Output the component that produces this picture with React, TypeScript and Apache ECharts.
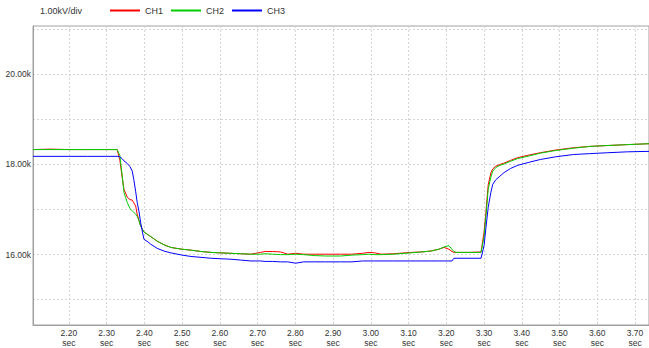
import React, { useEffect, useRef } from "react";
import * as echarts from "echarts";

const times = [
  2.105, 2.15, 2.2, 2.25, 2.3, 2.328, 2.335, 2.342, 2.346, 2.355, 2.362, 2.368, 2.372, 2.377, 2.381, 2.386,
  2.39, 2.395, 2.399, 2.41, 2.417, 2.434, 2.452, 2.47, 2.5, 2.523, 2.55, 2.576, 2.6, 2.627, 2.655, 2.682,
  2.708, 2.72, 2.74, 2.761, 2.78, 2.801, 2.822, 2.85, 2.88, 2.92, 2.95, 2.978, 2.995, 3.01, 3.027, 3.06,
  3.106, 3.135, 3.159, 3.18, 3.194, 3.207, 3.215, 3.22, 3.226, 3.26, 3.292, 3.3, 3.305, 3.311, 3.318, 3.323,
  3.331, 3.342, 3.353, 3.37, 3.389, 3.42, 3.449, 3.49, 3.537, 3.58, 3.628, 3.68, 3.737,
];

const ch1 = [
  18.33, 18.34, 18.33, 18.33, 18.33, 18.33, 18.1, 17.67, 17.45, 17.27, 17.22, 17.21, 17.15, 17.08, 16.9, 16.75,
  16.64, 16.56, 16.5, 16.44, 16.4, 16.3, 16.22, 16.16, 16.12, 16.1, 16.07, 16.05, 16.04, 16.03, 16.02, 16.01,
  16.05, 16.07, 16.07, 16.06, 16.01, 16.03, 16.01, 16.01, 16.01, 16.01, 16.01, 16.03, 16.05, 16.04, 16.01, 16.02,
  16.05, 16.06, 16.08, 16.12, 16.16, 16.12, 16.07, 16.05, 16.05, 16.05, 16.06, 16.5, 16.95, 17.55, 17.81, 17.9,
  17.96, 18.0, 18.03, 18.09, 18.15, 18.21, 18.26, 18.32, 18.37, 18.4, 18.42, 18.44, 18.46,
];

const ch2 = [
  18.33, 18.33, 18.33, 18.33, 18.33, 18.33, 18.2, 17.7, 17.38, 17.15, 17.02, 16.97, 16.94, 16.9, 16.85, 16.75,
  16.64, 16.56, 16.5, 16.44, 16.4, 16.3, 16.22, 16.16, 16.12, 16.1, 16.07, 16.05, 16.04, 16.03, 16.02, 16.01,
  16.01, 16.02, 16.01, 16.0, 16.0, 16.01, 16.0, 15.98, 15.97, 15.97, 15.99, 16.0, 16.01, 16.0, 16.0, 16.01,
  16.04, 16.06, 16.08, 16.12, 16.17, 16.2, 16.12, 16.07, 16.05, 16.05, 16.05, 16.4, 16.86, 17.45, 17.72, 17.85,
  17.93, 17.98, 18.01, 18.07, 18.13, 18.19, 18.25, 18.31, 18.36, 18.4, 18.42, 18.44, 18.46,
];

const ch3 = [
  18.18, 18.18, 18.18, 18.18, 18.18, 18.18, 18.17, 18.12, 18.08, 18.02, 17.95, 17.85, 17.67, 17.4, 17.16, 16.95,
  16.72, 16.5, 16.34, 16.28, 16.23, 16.14, 16.08, 16.04, 15.99, 15.96, 15.94, 15.92, 15.91, 15.9, 15.88, 15.86,
  15.86, 15.85, 15.85, 15.84, 15.84, 15.81, 15.84, 15.84, 15.84, 15.84, 15.84, 15.86, 15.86, 15.86, 15.86, 15.86,
  15.86, 15.86, 15.86, 15.86, 15.86, 15.86, 15.86, 15.92, 15.92, 15.92, 15.92, 16.2, 16.6, 17.05, 17.38, 17.56,
  17.66, 17.74, 17.82, 17.91, 17.98, 18.05, 18.11, 18.17, 18.22, 18.24, 18.26, 18.28, 18.29,
];

const seriesNames = ["CH1", "CH2", "CH3"];
const seriesColors = ["#ff0000", "#00cc00", "#0000ff"];
const xTicks = [2.2, 2.3, 2.4, 2.5, 2.6, 2.7, 2.8, 2.9, 3.0, 3.1, 3.2, 3.3, 3.4, 3.5, 3.6, 3.7];
const yGridTicks = [15, 16, 17, 18, 19, 20, 21];
const yLabelTicks = [16, 18, 20];
const scaleLabel = "1.00kV/div";

const FONT = "Liberation Sans, Arial, sans-serif";

export default function App() {
  const ref = useRef<HTMLDivElement>(null);
  useEffect(() => {
    if (!ref.current) return;
    const chart = echarts.init(ref.current, undefined, { renderer: "svg" });
    const values = [ch1, ch2, ch3];
    chart.setOption({
      animation: false,
      backgroundColor: "#ffffff",
      title: {
        text: scaleLabel,
        left: 40,
        top: 6,
        padding: 0,
        textStyle: { fontSize: 9, fontWeight: "normal", color: "#333", fontFamily: FONT },
      },
      legend: {
        data: seriesNames,
        left: 110,
        top: 6,
        padding: 0,
        icon: "rect",
        itemWidth: 30,
        itemHeight: 2,
        itemGap: 8,
        textStyle: { fontSize: 9, color: "#333", fontFamily: FONT },
      },
      grid: {
        left: 33,
        top: 26,
        right: -2,
        bottom: 22,
        show: true,
        borderColor: "#a0a0a0",
        borderWidth: 1,
      },
      xAxis: {
        type: "value",
        min: 2.105,
        max: 3.737,
        axisLine: { lineStyle: { color: "#a0a0a0" } },
        axisTick: { show: false, customValues: xTicks },
        axisLabel: {
          customValues: xTicks,
          formatter: (v: number) => v.toFixed(2) + "\nsec",
          fontSize: 8.5,
          lineHeight: 10,
          margin: 3,
          color: "#333",
          fontFamily: FONT,
        },
        splitLine: { show: true, lineStyle: { color: "#d4d4d4", type: [2, 2] } },
      },
      yAxis: {
        type: "value",
        min: 14.44,
        max: 21.07,
        axisLine: { show: true, lineStyle: { color: "#a0a0a0" } },
        axisTick: { show: false, customValues: yGridTicks },
        axisLabel: {
          customValues: yLabelTicks,
          formatter: (v: number) => v.toFixed(2) + "k",
          fontSize: 8.5,
          margin: 2,
          color: "#333",
          fontFamily: FONT,
        },
        splitLine: { show: true, lineStyle: { color: "#d4d4d4", type: [2, 2] } },
      },
      series: seriesNames.map((name, i) => ({
        name,
        type: "line",
        showSymbol: false,
        symbol: "none",
        color: seriesColors[i],
        lineStyle: { width: 1, color: seriesColors[i] },
        data: times.map((t, j) => [t, values[i][j]]),
      })),
    });
    return () => chart.dispose();
  }, []);
  return (
    <div
      ref={ref}
      style={{ position: "fixed", left: 0, top: 0, width: 649, height: 348 }}
    />
  );
}
